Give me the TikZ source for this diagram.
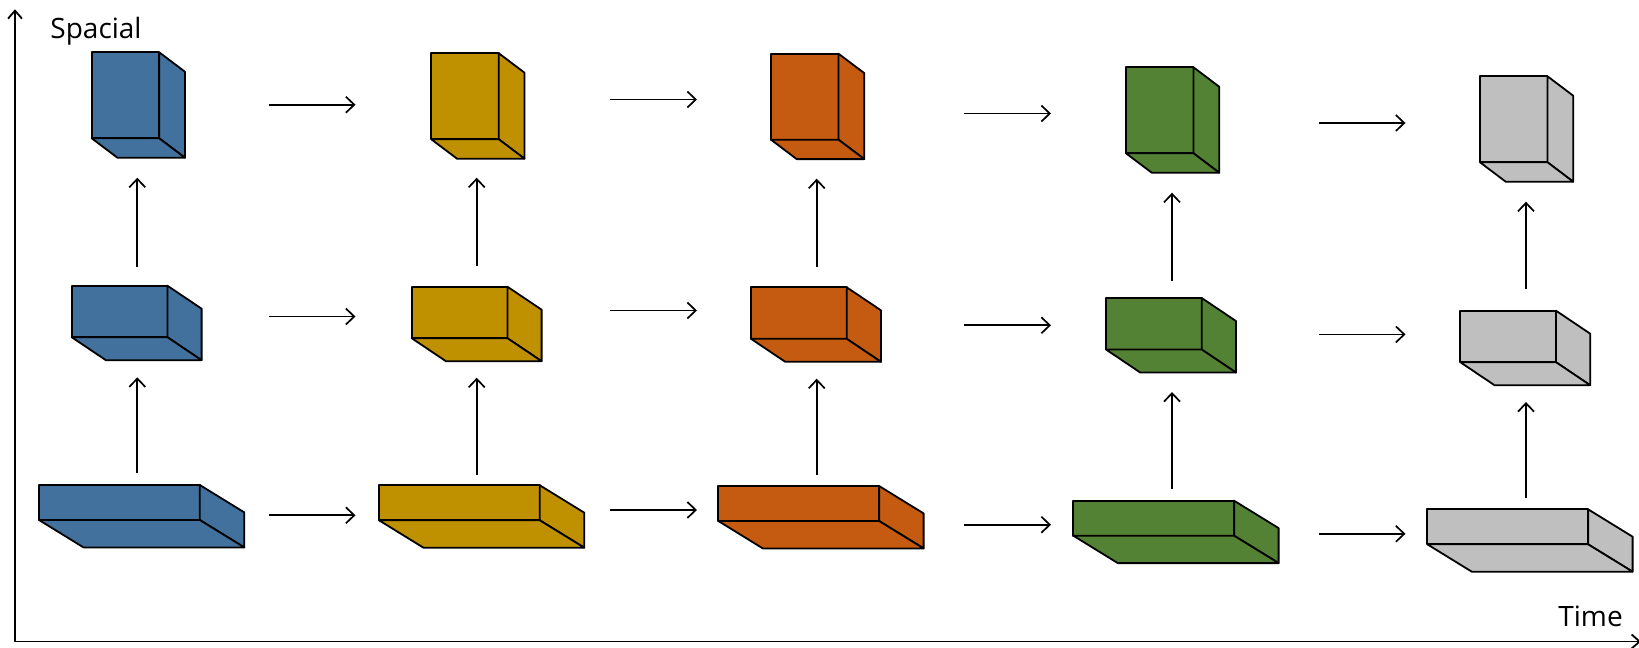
\documentclass[tikz,border=0pt]{standalone}
\usepackage{fontspec}
\setmainfont{Open Sans}
\usetikzlibrary{arrows.meta,calc}

\definecolor{cblue}{HTML}{41719C}
\definecolor{cgold}{HTML}{BF9000}
\definecolor{corange}{HTML}{C55A11}
\definecolor{cgreen}{HTML}{548235}
\definecolor{cgray}{HTML}{BFBFBF}

\tikzset{
  face/.style={draw=black, line width=0.9pt, fill=#1, line join=round},
  front/.style={face=#1, rectangle, inner sep=0pt, outer sep=0pt},
  flow/.style={line width=0.85pt, -{Straight Barb[length=4.2pt,width=8pt]}},
  axisline/.style={line width=0.9pt, -{Straight Barb[length=4pt,width=7pt]}},
  axislabel/.style={inner sep=0pt, font=\fontsize{14pt}{16pt}\selectfont, anchor=base west},
}

% A box seen from below: front face as a node, then right and bottom faces
% #1 name, #2 colour, #3 #4 top-left corner, #5 #6 width/height, #7 #8 depth offset
\newcommand\slab[8]{%
  \node[front=#2, minimum width=#5*0.5pt, minimum height=#6*0.5pt, anchor=north west] (#1) at (#3,#4) {};
  \draw[face=#2] (#1.north east) -- ++(#7,#8) -- ($(#1.south east)+(#7,#8)$) -- (#1.south east) -- cycle;
  \draw[face=#2] (#1.south west) -- (#1.south east) -- ++(#7,#8) -- ($(#1.south west)+(#7,#8)$) -- cycle;
}
\newcommand\cubeT[4]{\slab{#1}{#2}{#3}{#4}{67.5}{86}{25.7}{19.4}}
\newcommand\cubeM[4]{\slab{#1}{#2}{#3}{#4}{95.7}{51.5}{34.2}{23}}
\newcommand\cubeB[4]{\slab{#1}{#2}{#3}{#4}{160.8}{35}{44.5}{27.4}}

\begin{document}
\begin{tikzpicture}[x=0.5pt, y=-0.5pt]
  \useasboundingbox (0,0) rectangle (1639,648);
  \fill[white] (0,0) rectangle (1639,648);
  \clip (0,0) rectangle (1639,648);

  % axes
  \coordinate (origin) at (15,641.5);
  \coordinate (ytip) at (15,9.3);
  \coordinate (xtip) at (1641,641.5);
  \draw[axisline] (origin) -- (ytip);
  \draw[axisline] (origin) -- (xtip);
  \node[axislabel] (spacial) at (50,38.3) {Spacial};
  \node[axislabel] (time) at (1558,626.7) {Time};

  % column 1
  \cubeT{t1}{cblue}{91.7}{52.3}
  \cubeM{m1}{cblue}{71.7}{285.7}
  \cubeB{b1}{cblue}{39}{485}
  % column 2
  \cubeT{t2}{cgold}{431.3}{53.3}
  \cubeM{m2}{cgold}{411.7}{286.7}
  \cubeB{b2}{cgold}{379}{485.3}
  % column 3
  \cubeT{t3}{corange}{771}{53.7}
  \cubeM{m3}{corange}{751}{287.3}
  \cubeB{b3}{corange}{718.3}{486}
  % column 4
  \cubeT{t4}{cgreen}{1126}{67.3}
  \cubeM{m4}{cgreen}{1106}{298}
  \cubeB{b4}{cgreen}{1073.3}{500.7}
  % column 5
  \cubeT{t5}{cgray}{1480}{76.3}
  \cubeM{m5}{cgray}{1460.3}{310.7}
  \cubeB{b5}{cgray}{1427.3}{509.3}

  % arrows along time
  \foreach \g/\xa/\xb/\yt/\ym/\yb in {
      1/268.5/355.5/104.7/316.5/515.3,
      2/609.5/697/99.5/310.5/510,
      3/964/1051/113.5/325.3/524.7,
      4/1319/1405.5/123/334.4/533.8} {
    \coordinate (ht\g a) at (\xa,\yt); \coordinate (ht\g b) at (\xb,\yt);
    \coordinate (hm\g a) at (\xa,\ym); \coordinate (hm\g b) at (\xb,\ym);
    \coordinate (hb\g a) at (\xa,\yb); \coordinate (hb\g b) at (\xb,\yb);
    \draw[flow] (ht\g a) -- (ht\g b);
    \draw[flow] (hm\g a) -- (hm\g b);
    \draw[flow] (hb\g a) -- (hb\g b);
  }

  % arrows along space
  \foreach \c/\x/\ya/\yb/\yc/\yd in {
      1/137.3/473.3/377.3/266.5/177.7,
      2/476.7/474.7/377.7/265.7/177.7,
      3/816.7/475/378.7/266.7/178.7,
      4/1172/488.7/392/280.7/192.7,
      5/1526/498/402/289.4/201.7} {
    \coordinate (vl\c a) at (\x,\ya); \coordinate (vl\c b) at (\x,\yb);
    \coordinate (vu\c a) at (\x,\yc); \coordinate (vu\c b) at (\x,\yd);
    \draw[flow] (vl\c a) -- (vl\c b);
    \draw[flow] (vu\c a) -- (vu\c b);
  }
\end{tikzpicture}
\end{document}
